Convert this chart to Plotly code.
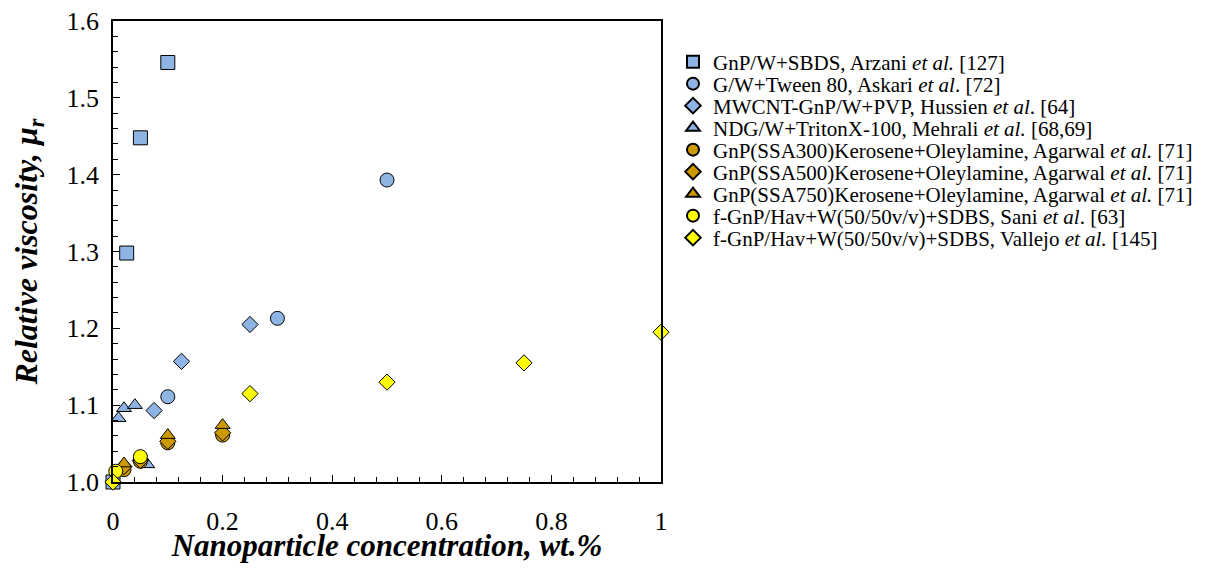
import plotly.graph_objects as go

# ---- data ----
names = [
    "GnP/W+SBDS, Arzani <i>et al.</i> [127]",
    "G/W+Tween 80, Askari <i>et al</i>. [72]",
    "MWCNT-GnP/W+PVP, Hussien <i>et al</i>. [64]",
    "NDG/W+TritonX-100, Mehrali <i>et al.</i> [68,69]",
    "GnP(SSA300)Kerosene+Oleylamine, Agarwal <i>et al.</i> [71]",
    "GnP(SSA500)Kerosene+Oleylamine, Agarwal <i>et al.</i> [71]",
    "GnP(SSA750)Kerosene+Oleylamine, Agarwal <i>et al.</i> [71]",
    "f-GnP/Hav+W(50/50v/v)+SDBS, Sani <i>et al</i>. [63]",
    "f-GnP/Hav+W(50/50v/v)+SDBS, Vallejo <i>et al.</i> [145]",
]

arzani_x = [0, 0.025, 0.05, 0.1]
arzani_y = [1.0, 1.298, 1.448, 1.546]
askari_x = [0.1, 0.3, 0.5]
askari_y = [1.111, 1.213, 1.393]
hussien_x = [0.075, 0.125, 0.25]
hussien_y = [1.093, 1.157, 1.205]
mehrali_x = [0.01, 0.02, 0.04, 0.0625]
mehrali_y = [1.083, 1.096, 1.100, 1.023]
ssa300_x = [0.02, 0.05, 0.1, 0.2]
ssa300_y = [1.016, 1.027, 1.051, 1.061]
ssa500_x = [0.02, 0.05, 0.1, 0.2]
ssa500_y = [1.020, 1.028, 1.053, 1.064]
ssa750_x = [0.02, 0.05, 0.1, 0.2]
ssa750_y = [1.024, 1.032, 1.061, 1.074]
sani_x = [0.005, 0.05]
sani_y = [1.014, 1.033]
vallejo_x = [0, 0.25, 0.5, 0.75, 1.0]
vallejo_y = [1.0, 1.115, 1.130, 1.155, 1.195]

xs = [arzani_x, askari_x, hussien_x, mehrali_x, ssa300_x, ssa500_x, ssa750_x, sani_x, vallejo_x]
ys = [arzani_y, askari_y, hussien_y, mehrali_y, ssa300_y, ssa500_y, ssa750_y, sani_y, vallejo_y]

BLUE = "#8EB4E3"
GOLD = "#CC9900"
YEL = "#FFFF00"
colors = [BLUE, BLUE, BLUE, BLUE, GOLD, GOLD, GOLD, YEL, YEL]
symbols = ["square", "circle", "diamond", "triangle-up", "circle", "diamond", "triangle-up", "circle", "diamond"]
sizes = [14, 14, 12.5, 13, 14, 12.5, 13, 14, 12.5]

FONT = "Liberation Serif"

fig = go.Figure()
for i in range(9):
    fig.add_trace(go.Scatter(
        x=xs[i], y=ys[i], mode="markers", name=names[i],
        marker=dict(symbol=symbols[i], size=sizes[i], color=colors[i],
                    line=dict(color="black", width=1)),
        cliponaxis=False, showlegend=True,
        legend="legend" if i == 0 else f"legend{i+1}",
    ))

# page body has an 8px margin: figure is 1190x555 drawn at (8, 8)
W, H = 1190, 555
L, R, T, B = 105, 653, 13, 474
layout_legends = {}
for i in range(9):
    py = 54 + i * 22
    key = "legend" if i == 0 else f"legend{i+1}"
    layout_legends[key] = dict(
        x=(665 - L) / (R - L), y=(B - py) / (B - T),
        xanchor="left", yanchor="middle",
        font=dict(family=FONT, size=21, color="black"),
        bgcolor="rgba(0,0,0,0)", itemsizing="constant",
        visible=True,
    )

fig.update_layout(
    width=W, height=H, showlegend=True,
    margin=dict(l=L, r=W - R, t=T, b=H - B, autoexpand=False),
    paper_bgcolor="white", plot_bgcolor="white",
    font=dict(family=FONT, color="black"),
    **layout_legends,
)

fig.update_xaxes(
    range=[0, 1], dtick=0.2, tick0=0, automargin=False, ticklabeloverflow="allow",
    showline=True, linecolor="black", linewidth=1.5, mirror=True,
    ticks="inside", ticklen=7, tickwidth=1.2, tickcolor="black",
    minor=dict(dtick=0.04, ticks="inside", ticklen=5, tickwidth=1, tickcolor="black"),
    showgrid=False, zeroline=False, ticklabelstandoff=15,
    tickfont=dict(family=FONT, size=26, color="black"),
    title=dict(text="<b><i>Nanoparticle concentration, wt.%</i></b>",
               font=dict(family=FONT, size=31, color="black"), standoff=21),
)
fig.update_yaxes(
    range=[1.0, 1.6], dtick=0.1, tick0=1.0, tickformat=".1f", automargin=False,
    ticklabeloverflow="allow",
    showline=True, linecolor="black", linewidth=1.5, mirror=True,
    ticks="inside", ticklen=7, tickwidth=1.2, tickcolor="black",
    minor=dict(dtick=0.02, ticks="inside", ticklen=5, tickwidth=1, tickcolor="black"),
    showgrid=False, zeroline=False, ticklabelstandoff=7,
    tickfont=dict(family=FONT, size=26, color="black"),
    title=dict(text="<b><i>Relative viscosity, μ<sub>r</sub></i></b>",
               font=dict(family=FONT, size=32, color="black"), standoff=23),
)

fig.write_html("out.html")
